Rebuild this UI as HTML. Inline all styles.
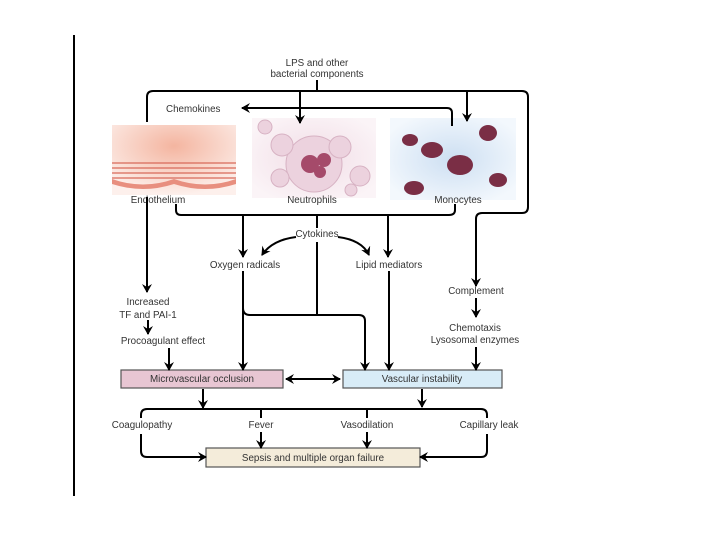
<!DOCTYPE html>
<html><head><meta charset="utf-8"><style>
html,body{margin:0;padding:0;background:#fff;}
svg{display:block;}
text{font-family:"Liberation Sans",sans-serif;font-size:9.8px;fill:#333;}
</style></head><body>
<svg width="720" height="540" viewBox="0 0 720 540" xmlns="http://www.w3.org/2000/svg">
<defs>
<marker id="a" markerWidth="10" markerHeight="10" refX="8" refY="5" orient="auto" markerUnits="userSpaceOnUse"><path d="M0,0 L9,5 L0,10 L3,5 z" fill="#000"/></marker>
<radialGradient id="gE" cx="50%" cy="30%" r="70%"><stop offset="0" stop-color="#f4b5a0"/><stop offset="1" stop-color="#fdf0ec"/></radialGradient>
<radialGradient id="gN" cx="50%" cy="50%" r="60%"><stop offset="0" stop-color="#f1dde6"/><stop offset="1" stop-color="#fbf4f7"/></radialGradient>
<radialGradient id="gM" cx="50%" cy="50%" r="60%"><stop offset="0" stop-color="#cddff2"/><stop offset="1" stop-color="#f3f8fd"/></radialGradient>
</defs>
<line x1="74" y1="35" x2="74" y2="496" stroke="#000" stroke-width="2"/>
<rect x="112" y="125" width="124" height="70" fill="url(#gE)"/>
<g stroke="#d86a5a" stroke-width="1.2" fill="none">
<path d="M112,163 h124 M112,168 h124 M112,173 h124 M112,178 h124"/>
</g>
<path d="M112,179 Q143,190 174,179 Q205,190 236,179 L236,184 Q205,194 174,184 Q143,194 112,184z" fill="#e88f7f"/>
<rect x="252" y="118" width="124" height="80" fill="url(#gN)"/>
<circle cx="314" cy="164" r="28" fill="#ecd2de" stroke="#d7b2c3"/>
<circle cx="310" cy="164" r="9" fill="#a54a6a"/><circle cx="324" cy="160" r="7" fill="#a54a6a"/><circle cx="320" cy="172" r="6" fill="#a54a6a"/>
<g fill="#ecd2de" stroke="#d7b2c3"><circle cx="282" cy="145" r="11"/><circle cx="265" cy="127" r="7"/><circle cx="340" cy="147" r="11"/><circle cx="280" cy="178" r="9"/><circle cx="360" cy="176" r="10"/><circle cx="351" cy="190" r="6"/></g>
<rect x="390" y="118" width="126" height="82" fill="url(#gM)"/>
<g fill="#7a2e45"><ellipse cx="410" cy="140" rx="8" ry="6"/><ellipse cx="432" cy="150" rx="11" ry="8"/><ellipse cx="460" cy="165" rx="13" ry="10"/><ellipse cx="488" cy="133" rx="9" ry="8"/><ellipse cx="414" cy="188" rx="10" ry="7"/><ellipse cx="498" cy="180" rx="9" ry="7"/></g>
<text x="317" y="66" text-anchor="middle">LPS and other</text>
<text x="317" y="77" text-anchor="middle">bacterial components</text>
<text x="166" y="112">Chemokines</text>
<text x="158" y="203" text-anchor="middle">Endothelium</text>
<text x="312" y="203" text-anchor="middle">Neutrophils</text>
<text x="458" y="203" text-anchor="middle">Monocytes</text>
<text x="317" y="237" text-anchor="middle">Cytokines</text>
<text x="245" y="268" text-anchor="middle">Oxygen radicals</text>
<text x="389" y="268" text-anchor="middle">Lipid mediators</text>
<text x="148" y="305" text-anchor="middle">Increased</text>
<text x="148" y="318" text-anchor="middle">TF and PAI-1</text>
<text x="163" y="344" text-anchor="middle">Procoagulant effect</text>
<text x="476" y="294" text-anchor="middle">Complement</text>
<text x="475" y="331" text-anchor="middle">Chemotaxis</text>
<text x="475" y="343" text-anchor="middle">Lysosomal enzymes</text>
<text x="142" y="428" text-anchor="middle">Coagulopathy</text>
<text x="261" y="428" text-anchor="middle">Fever</text>
<text x="367" y="428" text-anchor="middle">Vasodilation</text>
<text x="489" y="428" text-anchor="middle">Capillary leak</text>
<rect x="121" y="370" width="162" height="18" fill="#e8c6d3" stroke="#555" stroke-width="1.2"/>
<text x="202" y="382" text-anchor="middle">Microvascular occlusion</text>
<rect x="343" y="370" width="159" height="18" fill="#d8ecf7" stroke="#555" stroke-width="1.2"/>
<text x="422" y="382" text-anchor="middle">Vascular instability</text>
<rect x="206" y="448" width="214" height="19" fill="#f4ecda" stroke="#555" stroke-width="1.2"/>
<text x="313" y="461" text-anchor="middle">Sepsis and multiple organ failure</text>
<g stroke="#000" stroke-width="2" fill="none">
<path d="M317,80 V91"/>
<path d="M147,122 V97 Q147,91 153,91 H522 Q528,91 528,97 V207 Q528,213 522,213 H482 Q476,213 476,219 V286" marker-end="url(#a)"/>
<path d="M300,91 V123" marker-end="url(#a)"/>
<path d="M467,91 V121" marker-end="url(#a)"/>
<path d="M452,126 V113 Q452,108 447,108 H242" marker-end="url(#a)"/>
<path d="M176,204 V210 Q176,215 181,215 H449 Q455,215 455,210 V204"/>
<path d="M147,197 V292" marker-end="url(#a)"/>
<path d="M243,215 V257" marker-end="url(#a)"/>
<path d="M388,215 V257" marker-end="url(#a)"/>
<path d="M317,215 V228 M317,242 V315"/>
<path d="M296,237 Q272,240 262,255" marker-end="url(#a)"/>
<path d="M338,237 Q362,240 369,255" marker-end="url(#a)"/>
<path d="M243,271 V370" marker-end="url(#a)"/>
<path d="M243,308 Q243,315 250,315 H359 Q365,315 365,321 V370" marker-end="url(#a)"/>
<path d="M389,271 V370" marker-end="url(#a)"/>
<path d="M148,320 V334" marker-end="url(#a)"/>
<path d="M169,348 V370" marker-end="url(#a)"/>
<path d="M476,298 V317" marker-end="url(#a)"/>
<path d="M476,347 V370" marker-end="url(#a)"/>
<path d="M296,379 H340" marker-end="url(#a)"/>
<path d="M330,379 H286" marker-end="url(#a)"/>
<path d="M203,389 V408" marker-end="url(#a)"/>
<path d="M422,389 V407" marker-end="url(#a)"/>
<path d="M141,418 V415 Q141,409 147,409 H481 Q487,409 487,415 V418"/>
<path d="M141,434 V451 Q141,457 147,457 H206" marker-end="url(#a)"/>
<path d="M487,434 V451 Q487,457 481,457 H420" marker-end="url(#a)"/>
<path d="M261,409 V418 M261,432 V448" marker-end="url(#a)"/>
<path d="M367,409 V418 M367,432 V448" marker-end="url(#a)"/>
</g>
</svg>
</body></html>
